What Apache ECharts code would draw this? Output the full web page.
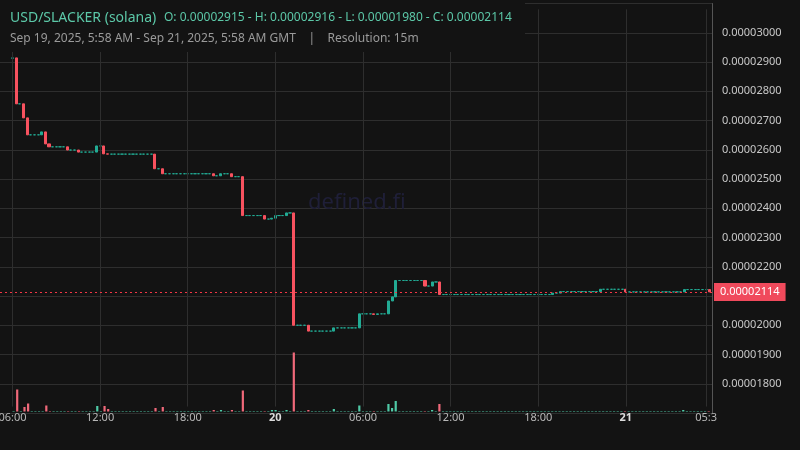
<!DOCTYPE html>
<html><head><meta charset="utf-8">
<script src="https://cdn.jsdelivr.net/npm/echarts@6/dist/echarts.min.js"></script>
<style>html,body{margin:0;padding:0;background:#131313;}#c{width:800px;height:450px;}</style>
</head><body><div id="c"></div>
<script>
// closes in units of 1e-8, one per 15m candle starting Sep 19 2025 06:00 GMT
const closes = [
2914,2757,2757,2709,2651,2651,2651,2651,2661,2620,2610,2610,2610,2610,2610,2599,
2599,2599,2592,2592,2592,2592,2592,2613,2613,2586,2585,2585,2585,2585,2585,2585,
2585,2585,2585,2585,2585,2585,2585,2535,2535,2518,2518,2518,2518,2518,2518,2518,
2518,2518,2518,2518,2518,2518,2518,2511,2511,2518,2518,2518,2508,2508,2508,2375,
2375,2375,2375,2375,2375,2363,2363,2366,2375,2375,2375,2384,2384,2000,2000,2000,
2000,1980,1980,1980,1980,1980,1980,1980,1991,1991,1991,1991,1991,1991,1991,2039,
2039,2039,2039,2037,2039,2039,2039,2083,2097,2153,2153,2153,2153,2153,2153,2153,
2153,2134,2134,2148,2148,2105,2105,2105,2105,2105,2105,2105,2105,2105,2105,2105,
2105,2105,2105,2105,2105,2105,2105,2105,2105,2105,2105,2105,2105,2105,2105,2105,
2105,2105,2105,2105,2110,2110,2115,2115,2115,2115,2115,2115,2115,2115,2115,2115,
2115,2123,2123,2123,2123,2123,2123,2123,2114,2114,2114,2114,2114,2114,2114,2114,
2114,2114,2114,2114,2114,2114,2114,2114,2122,2122,2122,2122,2122,2122,2122,2114];
const firstOpen = 2913, firstHigh = 2916;
const volumes = [
.5,22,.5,4.5,8,.5,.5,.5,.5,6,.5,.5,.5,.5,.5,.5,
.5,.5,.5,.5,.5,.5,.5,5.5,.5,5.5,2.5,.5,.5,.5,.5,.5,
.5,.5,.5,.5,.5,.5,.5,3.5,.5,4.5,.5,.5,.5,.5,.5,.5,
.5,.5,.5,.5,.5,.5,.5,1.5,.5,1.5,.5,.5,1.5,.5,.5,21,
.5,.5,.5,.5,.5,.5,.5,1.5,1.5,.5,.5,1.5,.5,59,.5,.5,
.5,1.5,.5,.5,.5,.5,.5,.5,2.5,.5,.5,.5,.5,.5,.5,6,
.5,.5,.5,.5,.5,.5,.5,7.5,3.5,10.5,.5,.5,.5,.5,.5,.5,
.5,.5,.5,1.5,.5,7.5,.5,.5,.5,.5,.5,.5,.5,.5,.5,.5,
.5,.5,.5,.5,.5,.5,.5,.5,.5,.5,.5,.5,.5,.5,.5,.5,
.5,.5,.5,.5,.5,.5,.5,.5,.5,.5,.5,.5,.5,.5,.5,.5,
.5,.5,.5,.5,.5,.5,.5,.5,.5,.5,.5,.5,.5,.5,.5,.5,
.5,.5,.5,.5,.5,.5,.5,.5,1.5,.5,.5,.5,.5,.5,.5,.5];
const lastPrice = 2114;
const yTicks = [1800,1900,2000,2100,2200,2300,2400,2500,2600,2700,2800,2900,3000];
// x tick labels: hours offset from Sep 19 06:00 GMT
const xTickHours = [0,6,12,18,24,30,36,42,47.5];
const xTickLabels = ['06:00','12:00','18:00','20','06:00','12:00','18:00','21','05:3'];

const UP='#22ab94', DOWN='#f7525f', UPV='#4fc9a6', DOWNV='#f0697a';
const t0 = Date.UTC(2025,8,19,6,0), step = 15*60*1000, H=3600*1000;
const candle=[], vol=[];
for(let i=0;i<closes.length;i++){
  const o = i===0?firstOpen:closes[i-1], c=closes[i];
  let hi=Math.max(o,c), lo=Math.min(o,c);
  if(i===0) hi=firstHigh;
  const t=t0+i*step;
  candle.push([t,o*1e-8,c*1e-8,lo*1e-8,hi*1e-8]);
  vol.push({value:[t,volumes[i]],itemStyle:{color:c>=o?UPV:DOWNV}});
}
const xmin = t0 - 0.856*H, xmax = t0 + 47.9*H;
const vLines = xTickHours.map((h,k)=>{
  const bold = (xTickLabels[k]==='20'||xTickLabels[k]==='21');
  return [{coord:[t0+h*H,0.00001722]},{coord:[t0+h*H,0.0000308],
    label:{formatter:xTickLabels[k],fontWeight:bold?'bold':'normal',color:bold?'#dcdcdc':'#b8b8b8'}}];
});
const chart = echarts.init(document.getElementById('c'));
const xAx = gi=>({type:'time',gridIndex:gi,min:xmin,max:xmax,show:false,splitLine:{show:false}});
chart.setOption({
  backgroundColor:'#131313',animation:false,useUTC:true,
  grid:[{left:0,right:88,top:3.5,height:409.5},{left:0,right:88,bottom:38.5,height:100}],
  xAxis:[xAx(0),xAx(1)],
  yAxis:[{type:'value',gridIndex:0,position:'right',min:0.000017,max:0.000031,interval:0.000001,
    axisLine:{show:true,lineStyle:{color:'#555'}},axisTick:{show:false},
    splitLine:{lineStyle:{color:'#2e2e2e'}},
    axisLabel:{color:'#c8c8c8',fontSize:11,fontFamily:'Noto Sans',margin:10,
      formatter:v=>{const k=Math.round(v*1e8);return yTicks.includes(k)?(k/1e8).toFixed(8):'';}}},
   {type:'value',gridIndex:1,min:0,max:100,show:false,splitLine:{show:false}}],
  graphic:[
    {type:'rect',shape:{x:0,y:0,width:525,height:52},style:{fill:'#131313'},z:50},
    {type:'text',left:10,top:11,z:60,style:{text:'USD/SLACKER (solana)',fill:'#5cc8a8',font:'14px "Noto Sans"'}},
    {type:'text',left:164,top:12,z:60,style:{text:'O: 0.00002915 - H: 0.00002916 - L: 0.00001980 - C: 0.00002114',fill:'#5cc8a8',font:'12px "Noto Sans"'}},
    {type:'text',left:10,top:33,z:60,style:{text:'Sep 19, 2025, 5:58 AM - Sep 21, 2025, 5:58 AM GMT    |    Resolution: 15m',fill:'#9a9a9a',font:'12px "Noto Sans"'}},
    {type:'text',left:308,top:192,z:1,style:{text:'defined.fi',fill:'#1f1f38',font:'22px "Noto Sans"'}}
  ],
  series:[
    {type:'line',xAxisIndex:0,yAxisIndex:0,data:[],z:0,
     markLine:{silent:true,symbol:'none',animation:false,data:vLines,
       lineStyle:{color:'#2e2e2e',type:'solid',width:1},
       label:{position:'start',distance:6,fontSize:11,fontFamily:'Noto Sans'}}},
    {type:'candlestick',xAxisIndex:0,yAxisIndex:0,data:candle,barWidth:2.6,z:3,
     itemStyle:{color:UP,color0:DOWN,borderColor:UP,borderColor0:DOWN,borderWidth:1}},
    {type:'line',xAxisIndex:0,yAxisIndex:0,data:[],z:5,
     markLine:{silent:true,symbol:'none',animation:false,
       data:[[{coord:[xmin,lastPrice*1e-8]},{coord:[xmax,lastPrice*1e-8]}]],
       lineStyle:{color:'#f23645',type:[2,3],width:1},
       label:{position:'end',formatter:(lastPrice/1e8).toFixed(8),color:'#fff',backgroundColor:'#f04a5c',
         padding:[4,6,3,6],fontSize:11,fontFamily:'Noto Sans',distance:2}}},
    {type:'bar',xAxisIndex:1,yAxisIndex:1,data:vol,barWidth:2.2,z:1}
  ]
});
</script></body></html>
